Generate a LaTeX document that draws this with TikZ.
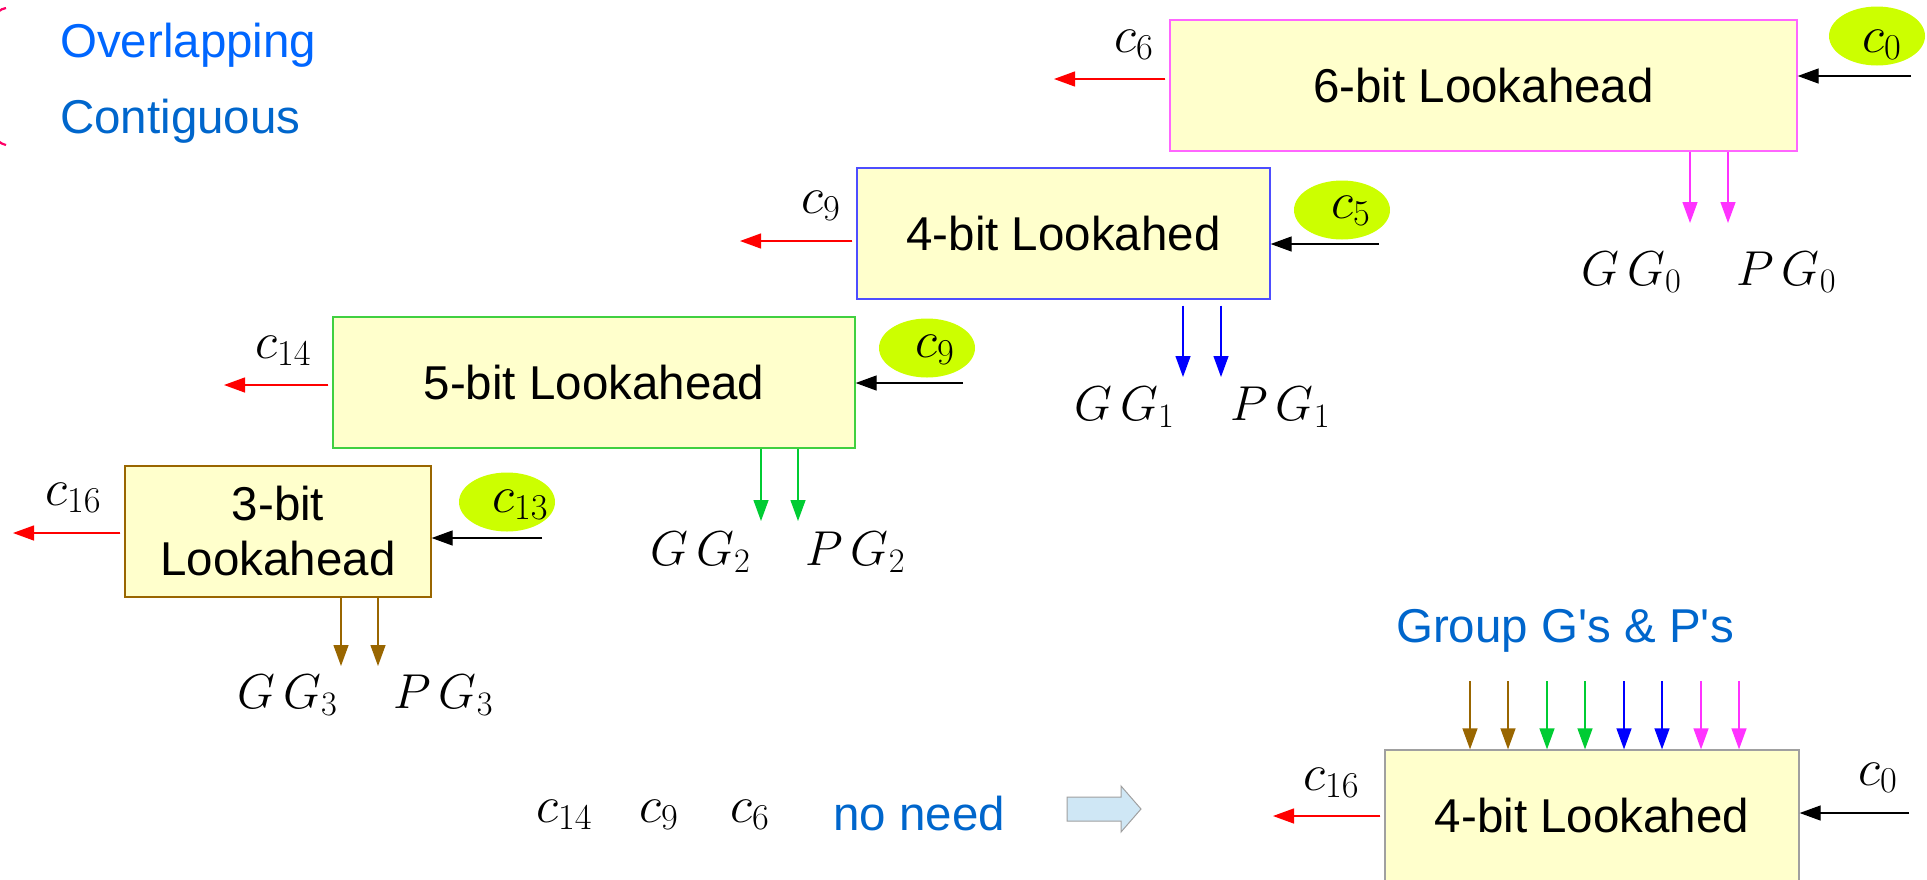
\documentclass[tikz,border=0pt]{standalone}
\usepackage{fix-cm}
\usepackage{fontspec}
\setmainfont{Liberation Sans}
\usetikzlibrary{arrows.meta,shapes.geometric}
\definecolor{boxfill}{HTML}{FFFFCC}
\definecolor{blobc}{HTML}{CCFF00}
\definecolor{redc}{HTML}{FF0000}
\definecolor{magc}{HTML}{FF33FF}
\definecolor{magb}{HTML}{FF66FF}
\definecolor{bluec}{HTML}{0000FF}
\definecolor{blueb}{HTML}{4D4DFF}
\definecolor{greenc}{HTML}{00CC33}
\definecolor{greenb}{HTML}{40D040}
\definecolor{brownc}{HTML}{996600}
\definecolor{grayb}{HTML}{A0A0A0}
\definecolor{txtblue}{HTML}{0066CC}
\definecolor{txtblueb}{HTML}{0066FF}
\definecolor{brk}{HTML}{FF0066}
\definecolor{blockfill}{HTML}{CFE7F5}
\newcommand\bigtxt{\fontsize{47.5}{55}\selectfont}
\newcommand\mtxt{\fontsize{52}{60}\selectfont}
\newcommand\gtxt{\fontsize{49}{58}\selectfont}
\tikzset{
  lbox/.style={draw, fill=boxfill, line width=1.3pt, font=\bigtxt, inner sep=0pt, align=center},
  blob/.style={ellipse, fill=blobc, minimum width=96pt, minimum height=59pt, inner sep=0pt},
  arr/.style={-{Triangle[length=21pt,width=15pt]}, line width=1.3pt},
  redarr/.style={arr, draw=redc, fill=redc, shorten <=4pt},
  lab/.style={font=\mtxt, anchor=base west, inner sep=0pt},
  glab/.style={font=\gtxt, anchor=base west, inner sep=0pt},
  ttxt/.style={font=\bigtxt, anchor=base west, inner sep=0pt},
}
\begin{document}
\begin{tikzpicture}[x=1pt,y=-1pt]
\useasboundingbox (0,0) rectangle (1927,879);
\clip (0,0) rectangle (1927,879);

% bracket
\draw[brk, line width=2.2pt] (6,8) .. controls (1,9) and (-6,12) .. (-8,24) -- (-8,130) .. controls (-6,140) and (1,144) .. (6,145);

\node[ttxt, text=txtblueb] (ovl) at (60,57) {Overlapping};
\node[ttxt, text=txtblue] (cont) at (60,133) {Contiguous};

% boxes
\node[lbox, draw=magb, minimum width=627pt, minimum height=131pt] (box6) at (1483.5,85.5) {6-bit Lookahead};
\node[lbox, draw=blueb, minimum width=413pt, minimum height=131pt] (box4) at (1063.5,233.5) {4-bit Lookahed};
\node[lbox, draw=greenb, minimum width=522pt, minimum height=131pt] (box5) at (594,382.5) {5-bit Lookahead};
\node[lbox, draw=brownc, minimum width=306pt, minimum height=131pt] (box3) at (278,531.5) {3-bit\\Lookahead};
\node[lbox, draw=grayb, minimum width=414pt, minimum height=131pt] (boxB) at (1592,815.5) {4-bit Lookahed};

% ellipses
\node[blob] (e0) at (1877,36) {};
\node[blob] (e5) at (1342,210) {};
\node[blob] (e9) at (927,348) {};
\node[blob] (e13) at (507,502) {};

% c labels
\node[lab] (lc0) at (1862,52) {$c_0$};
\node[lab] (lc5) at (1331,218) {$c_5$};
\node[lab] (lc9e) at (915,357) {$c_9$};
\node[lab] (lc13) at (492,512) {$c_{13}$};
\node[lab] (lc6) at (1114,52) {$c_6$};
\node[lab] (lc9) at (801,213) {$c_9$};
\node[lab] (lc14) at (255,358) {$c_{14}$};
\node[lab] (lc16) at (45,505) {$c_{16}$};
\node[lab] (lc16b) at (1303,790) {$c_{16}$};
\node[lab] (lc0b) at (1858,785) {$c_0$};

% red carry outputs
\coordinate (t6) at (1054,79);
\coordinate (t9) at (740,241);
\coordinate (t14) at (224,385);
\coordinate (t16) at (13,533);
\coordinate (t16b) at (1273,816);
\draw[redarr] (box6.west |- t6) -- (t6);
\draw[redarr] (box4.west |- t9) -- (t9);
\draw[redarr] (box5.west |- t14) -- (t14);
\draw[redarr] (box3.west |- t16) -- (t16);
\draw[redarr] (boxB.west |- t16b) -- (t16b);

% black carry inputs
\coordinate (s0) at (1911,76);
\coordinate (s5) at (1379,244);
\coordinate (s9) at (963,383);
\coordinate (s13) at (542,538);
\coordinate (s0b) at (1909,813);
\draw[arr] (s0) -- (box6.east |- s0);
\draw[arr] (s5) -- (box4.east |- s5);
\draw[arr] (s9) -- (box5.east |- s9);
\draw[arr] (s13) -- (box3.east |- s13);
\draw[arr] (s0b) -- (boxB.east |- s0b);

% group G/P outputs
\coordinate (g0a) at (1690,223); \coordinate (g0b) at (1728,223);
\coordinate (g1a) at (1183,377); \coordinate (g1b) at (1221,377);
\coordinate (g2a) at (761,521); \coordinate (g2b) at (798,521);
\coordinate (g3a) at (341,666); \coordinate (g3b) at (378,666);
\draw[arr, magc] (box6.south -| g0a) -- (g0a);
\draw[arr, magc] (box6.south -| g0b) -- (g0b);
\draw[arr, bluec] ([yshift=-6pt]box4.south -| g1a) -- (g1a);
\draw[arr, bluec] ([yshift=-6pt]box4.south -| g1b) -- (g1b);
\draw[arr, greenc] (box5.south -| g2a) -- (g2a);
\draw[arr, greenc] (box5.south -| g2b) -- (g2b);
\draw[arr, brownc] (box3.south -| g3a) -- (g3a);
\draw[arr, brownc] (box3.south -| g3b) -- (g3b);

\node[glab] (gg0) at (1581,285) {$G\,G_0$};
\node[glab] (pg0) at (1736,285) {$P\,G_0$};
\node[glab] (gg1) at (1074,420) {$G\,G_1$};
\node[glab] (pg1) at (1230,420) {$P\,G_1$};
\node[glab] (gg2) at (650,565) {$G\,G_2$};
\node[glab] (pg2) at (805,565) {$P\,G_2$};
\node[glab] (gg3) at (237,708) {$G\,G_3$};
\node[glab] (pg3) at (393,708) {$P\,G_3$};

% bottom part
\node[ttxt, text=txtblue] (grp) at (1396,642) {Group G\textquotesingle s \& P\textquotesingle s};
\coordinate (q1) at (1470,681); \coordinate (q2) at (1508,681);
\coordinate (q3) at (1547,681); \coordinate (q4) at (1585,681);
\coordinate (q5) at (1624,681); \coordinate (q6) at (1662,681);
\coordinate (q7) at (1701,681); \coordinate (q8) at (1739,681);
\draw[arr, brownc] (q1) -- (boxB.north -| q1);
\draw[arr, brownc] (q2) -- (boxB.north -| q2);
\draw[arr, greenc] (q3) -- (boxB.north -| q3);
\draw[arr, greenc] (q4) -- (boxB.north -| q4);
\draw[arr, bluec] (q5) -- (boxB.north -| q5);
\draw[arr, bluec] (q6) -- (boxB.north -| q6);
\draw[arr, magc] (q7) -- (boxB.north -| q7);
\draw[arr, magc] (q8) -- (boxB.north -| q8);

\node[lab] (n14) at (536,822) {$c_{14}$};
\node[lab] (n9) at (639,822) {$c_9$};
\node[lab] (n6) at (730,822) {$c_6$};
\node[ttxt, text=txtblue] (noneed) at (833,830) {no need};
\draw[draw=grayb, fill=blockfill, line width=1pt] (1067,797) -- (1121,797) -- (1121,786) -- (1141,809) -- (1121,832) -- (1121,821) -- (1067,821) -- cycle;
\end{tikzpicture}
\end{document}
